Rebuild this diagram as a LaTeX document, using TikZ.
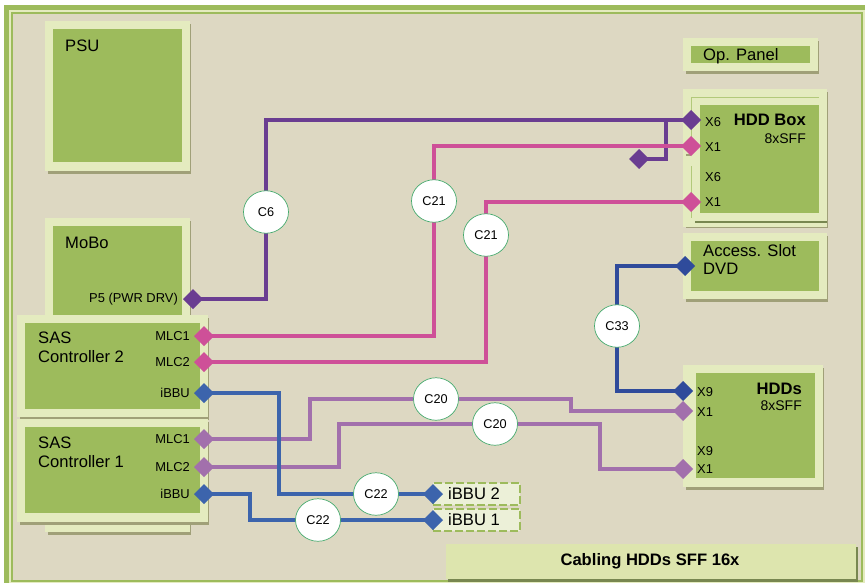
\documentclass[tikz,border=0pt]{standalone}
\usepackage{fontspec}
\setmainfont{Liberation Sans}
\usetikzlibrary{calc,shapes.geometric}
\pgfdeclarelayer{cabling}
\pgfdeclarelayer{top}
\pgfsetlayers{main,cabling,top}
\definecolor{sand}{RGB}{221,216,194}
\definecolor{leaf}{RGB}{157,187,92}
\definecolor{pale}{RGB}{228,235,191}
\definecolor{dusk}{RGB}{160,160,120}
\definecolor{moss}{RGB}{120,135,80}
\definecolor{banner}{RGB}{221,229,174}
\definecolor{tagfill}{RGB}{236,240,216}
\definecolor{ring}{RGB}{70,170,110}
\definecolor{plum}{RGB}{106,61,145}
\definecolor{rose}{RGB}{206,80,152}
\definecolor{lilac}{RGB}{162,112,172}
\definecolor{azure}{RGB}{60,100,172}
\definecolor{navy}{RGB}{47,75,155}
\tikzset{
  lbl/.style={font=\fontsize{16.6}{19}\selectfont, align=left, anchor=north west, inner sep=0pt},
  boldlbl/.style={font=\bfseries\fontsize{16.6}{19}\selectfont, anchor=north east, inner sep=0pt},
  sublbl/.style={font=\fontsize{14}{16}\selectfont, anchor=north east, inner sep=0pt},
  portlbl/.style={font=\fontsize{12.9}{14}\selectfont, inner sep=0pt},
  port/.style={diamond, fill=#1, minimum size=20pt, inner sep=0pt, outer sep=0pt},
  cable/.style={#1, line width=3.8pt, line join=miter},
  cid/.style={ellipse, draw=ring, fill=white, line width=0.7pt, minimum width=45pt, minimum height=42.5pt, inner sep=0pt, font=\fontsize{12.7}{14}\selectfont},
  tag/.style={draw=leaf, fill=tagfill, dashed, dash pattern=on 8pt off 3pt, line width=2pt, minimum width=87pt, minimum height=22pt, inner sep=0pt},
}
\begin{document}
\begin{tikzpicture}[x=1pt,y=-1pt]
  \useasboundingbox (0,0) rectangle (865,584);
  % frame
  \fill[white] (0,0) rectangle (865,584);
  \fill[pale] (3.5,4.5) rectangle (865,583);
  \fill[leaf] (3.5,4.5) rectangle (865,9.5);
  \fill[leaf] (3.5,4.5) rectangle (9,583);
  \fill[leaf] (10.7,11.5) rectangle (862.5,581.5);
  \fill[sand] (12.5,13.5) rectangle (860.5,580);
  % boards, outer/inner with shadow
  \foreach \xa/\ya/\xb/\yb/\ia/\ib/\ic/\id in {
    45/21/190/171/53/29/182/162,
    45/218/190/532/53/226/182/525,
    17/315/208/417/25/323/200/409,
    17/419/208/522/25/427/200/513,
    683/38/818/71/691/46/810/63,
    683/233/827/299/691/241/819/291,
    683/365/823/487/696/373/815/478} {
    \fill[dusk] (\xa+3,\ya+3) rectangle (\xb+1,\yb+3);
    \fill[pale] (\xa,\ya) rectangle (\xb,\yb);
    \fill[leaf] (\ia,\ib) rectangle (\ic,\id);
  }
  % hdd box has a second sheet
  \fill[dusk] (686,92) rectangle (828,228);
  \fill[pale] (683,89) rectangle (827,227);
  \draw[leaf!70!pale, line width=0.6pt] (691.5,155) -- (691.5,97.5) -- (819,97.5);
  \draw[leaf!70!pale, line width=0.6pt] (691.5,166) -- (691.5,218);
  \fill[dusk] (686,154) rectangle (691,156);
  \fill[moss] (695,221) rectangle (827,223);
  \fill[leaf] (700,105) rectangle (819,213);
  % banner
  \fill[moss] (448,547) rectangle (858,582);
  \fill[banner] (446,544) rectangle (856,579);
  \node[font=\bfseries\fontsize{16.6}{19}\selectfont, inner sep=0pt] (title) at (650,561) {Cabling HDDs SFF 16x};
  % board labels
  \node[lbl] (psu) at (65,40) {PSU};
  \node[lbl] (mobo) at (65,237) {MoBo};
  \node[lbl] (sasb) at (38,332) {SAS\\Controller 2};
  \node[lbl] (sasa) at (38,437) {SAS\\Controller 1};
  \node[lbl] (oppanel) at (703,48) {Op. Panel};
  \node[lbl] (access) at (703,244) {Access. Slot\\[-1pt]DVD};
  \node[boldlbl] (hddbox) at (806,114) {HDD Box};
  \node[sublbl] (hddsff) at (806,134) {8xSFF};
  \node[boldlbl] (hdds) at (802,383) {HDDs};
  \node[sublbl] (hddssff) at (802,401) {8xSFF};
  % small tags
  \node[tag] (tagb) at (476.5,494) {};
  \node[tag] (taga) at (476.5,520) {};
  \node[lbl, anchor=west] (tagbt) at (448,494) {iBBU 2};
  \node[lbl, anchor=west] (tagat) at (448,520) {iBBU 1};
  % port labels
  \foreach \nm/\px/\py/\txt in {lp/178/299/P5 (PWR DRV),la/190/336/MLC1,lb/190/362/MLC2,lc/190/393/iBBU,
    ld/190/439/MLC1,le/190/467/MLC2,lf/190/494/iBBU} {
    \node[portlbl, anchor=east] (\nm) at (\px,\py) {\txt};
  }
  \foreach \nm/\px/\py/\txt in {xa/705/122/X6,xb/705/147/X1,xc/705/177/X6,xd/705/202/X1,
    xe/697/392/X9,xf/697/412/X1,xg/697/451/X9,xh/697/469/X1} {
    \node[portlbl, anchor=west] (\nm) at (\px,\py) {\txt};
  }
  \begin{pgfonlayer}{top}
    % ports
    \node[port=plum] (pfive) at (193,299) {};
    \node[port=rose] (sasbmlca) at (204,336) {};
    \node[port=rose] (sasbmlcb) at (204,362) {};
    \node[port=azure] (sasbibbu) at (204,393) {};
    \node[port=lilac] (sasamlca) at (204,439) {};
    \node[port=lilac] (sasamlcb) at (204,467) {};
    \node[port=azure] (sasaibbu) at (204,494) {};
    \node[port=plum] (boxsix) at (691,120) {};
    \node[port=rose] (boxonea) at (691,146) {};
    \node[port=plum] (boxspare) at (639,159) {};
    \node[port=rose] (boxoneb) at (691,202) {};
    \node[port=navy] (dvd) at (685,266) {};
    \node[port=navy] (hddnine) at (683,391) {};
    \node[port=lilac] (hddonea) at (683,411) {};
    \node[port=lilac] (hddoneb) at (683,469) {};
    \node[port=azure] (ibbub) at (433,494) {};
    \node[port=azure] (ibbua) at (433,520) {};
    % cable ids
    \node[cid] (csix) at (266,212) {C6\hspace{6pt}};
    \node[cid] (cxxia) at (434,201) {C21};
    \node[cid] (cxxib) at (486,235) {C21};
    \node[cid] (cxxa) at (436,399) {C20};
    \node[cid] (cxxb) at (495,424) {C20};
    \node[cid] (cxxxiii) at (617,326) {C33};
    \node[cid] (cxxiia) at (376,494) {C22};
    \node[cid] (cxxiib) at (318,520) {C22};
  \end{pgfonlayer}
  % bends
  \coordinate (busa) at (666,120);
  \coordinate (lifta) at (310,399);
  \coordinate (dropa) at (571,399);
  \coordinate (liftb) at (339,424);
  \coordinate (dropb) at (600,424);
  \coordinate (bbub) at (279,393);
  \coordinate (bbua) at (250,494);
  % cables
  \begin{pgfonlayer}{cabling}
    \draw[cable=plum] (pfive.center) -| (csix.center) |- (boxsix.center);
    \draw[cable=plum] (boxspare.center) -| (busa);
    \draw[cable=rose] (sasbmlca.center) -| (cxxia.center) |- (boxonea.center);
    \draw[cable=rose] (sasbmlcb.center) -| (cxxib.center) |- (boxoneb.center);
    \draw[cable=lilac] (sasamlca.center) -| (lifta) -- (dropa) |- (hddonea.center);
    \draw[cable=lilac] (sasamlcb.center) -| (liftb) -- (dropb) |- (hddoneb.center);
    \draw[cable=navy] (dvd.center) -| (cxxxiii.center) |- (hddnine.center);
    \draw[cable=azure] (sasbibbu.center) -| (bbub) |- (ibbub.center);
    \draw[cable=azure] (sasaibbu.center) -| (bbua) |- (ibbua.center);
  \end{pgfonlayer}
\end{tikzpicture}
\end{document}
